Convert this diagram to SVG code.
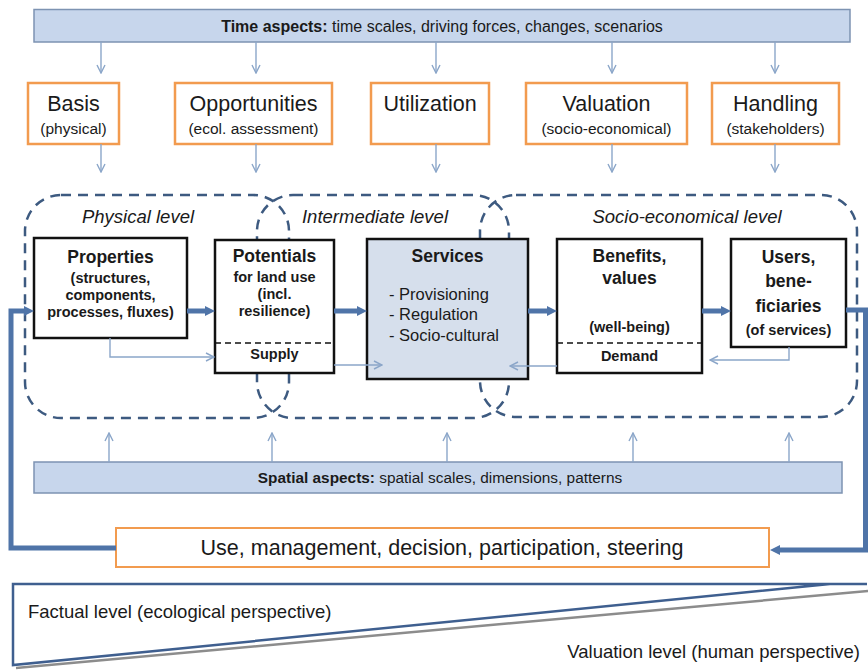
<svg xmlns="http://www.w3.org/2000/svg" width="868" height="670" viewBox="0 0 868 670">
  <style>
    text { font-family: "Liberation Sans", Arial, sans-serif; fill: #1a1a1a; }
    .band { fill: #c7d6ec; stroke: #7d93b2; stroke-width: 1.5; }
    .aspect { fill: #fff; stroke: #f29b4f; stroke-width: 2.5; }
    .node { fill: #fff; stroke: #111; stroke-width: 2.5; }
    .svc { fill: #d6dfec; stroke: #111; stroke-width: 2.5; }
    .level { fill: none; stroke: #3d5a80; stroke-width: 2.5; stroke-dasharray: 10 7; }
    .split { stroke: #111; stroke-width: 1.5; stroke-dasharray: 6 4; }
    .thin { fill: none; stroke: #8ba6c9; stroke-width: 1.4; marker-end: url(#head-thin); }
    .thick { fill: none; stroke: #4f74a8; stroke-width: 5; marker-end: url(#head-thick); }
    .h1 { font-size: 21.5px; text-anchor: middle; }
    .h2 { font-size: 15.5px; text-anchor: middle; }
    .nh { font-size: 17.5px; font-weight: bold; text-anchor: middle; }
    .nb { font-size: 14.5px; font-weight: bold; text-anchor: middle; }
    .li { font-size: 16.5px; }
    .lv { font-size: 18.5px; font-style: italic; text-anchor: middle; }
  </style>
  <defs>
    <marker id="head-thin" viewBox="0 0 10 10" refX="9" refY="5" markerWidth="10" markerHeight="10" markerUnits="userSpaceOnUse" orient="auto">
      <path d="M1,1 L9,5 L1,9" fill="none" stroke="#8ba6c9" stroke-width="1.4"/>
    </marker>
    <marker id="head-thick" viewBox="0 0 10 10" refX="2" refY="5" markerWidth="10" markerHeight="11" markerUnits="userSpaceOnUse" orient="auto">
      <path d="M0,0 L10,5 L0,10 Z" fill="#4f74a8"/>
    </marker>
  </defs>

  <!-- top band -->
  <g id="time-aspects">
    <rect class="band" x="34" y="9.5" width="816" height="32.5"/>
    <text x="442" y="31.5" font-size="16" text-anchor="middle"><tspan font-weight="bold">Time aspects:</tspan> time scales, driving forces, changes, scenarios</text>
  </g>

  <!-- aspect boxes -->
  <g id="basis">
    <rect class="aspect" x="28" y="83" width="91" height="61"/>
    <text class="h1" x="73.5" y="111">Basis</text>
    <text class="h2" x="73.5" y="134">(physical)</text>
  </g>
  <g id="opportunities">
    <rect class="aspect" x="175" y="83" width="157" height="61"/>
    <text class="h1" x="253.5" y="111">Opportunities</text>
    <text class="h2" x="253.5" y="134">(ecol. assessment)</text>
  </g>
  <g id="utilization">
    <rect class="aspect" x="371" y="83" width="118" height="61"/>
    <text class="h1" x="430" y="111">Utilization</text>
  </g>
  <g id="valuation">
    <rect class="aspect" x="526" y="83" width="161" height="61"/>
    <text class="h1" x="606.5" y="111">Valuation</text>
    <text class="h2" x="606.5" y="134">(socio-economical)</text>
  </g>
  <g id="handling">
    <rect class="aspect" x="712" y="83" width="127" height="61"/>
    <text class="h1" x="775.5" y="111">Handling</text>
    <text class="h2" x="775.5" y="134">(stakeholders)</text>
  </g>

  <!-- level regions -->
  <g id="levels">
    <rect class="level" x="25" y="195" width="264" height="223" rx="36"/>
    <rect class="level" x="257" y="195" width="252" height="223" rx="36"/>
    <rect class="level" x="480" y="195" width="377" height="222" rx="36"/>
    <text class="lv" x="138" y="223">Physical level</text>
    <text class="lv" x="375" y="223">Intermediate level</text>
    <text class="lv" x="687" y="223">Socio-economical level</text>
  </g>

  <!-- core chain -->
  <g id="properties">
    <rect class="node" x="34" y="238" width="153" height="100"/>
    <text class="nh" x="110.5" y="263">Properties</text>
    <text class="nb" x="110.5" y="283">(structures,</text>
    <text class="nb" x="110.5" y="300">components,</text>
    <text class="nb" x="110.5" y="317">processes, fluxes)</text>
  </g>
  <g id="potentials">
    <rect class="node" x="215" y="240" width="119" height="133"/>
    <line class="split" x1="215" y1="343" x2="334" y2="343"/>
    <text class="nh" x="274.5" y="262">Potentials</text>
    <text class="nb" x="274.5" y="282">for land use</text>
    <text class="nb" x="274.5" y="299">(incl.</text>
    <text class="nb" x="274.5" y="316">resilience)</text>
    <text class="nb" x="274.5" y="359">Supply</text>
  </g>
  <g id="services">
    <rect class="svc" x="367" y="239" width="161" height="140"/>
    <text class="nh" x="447.5" y="262">Services</text>
    <text class="li" x="389" y="300">- Provisioning</text>
    <text class="li" x="389" y="320">- Regulation</text>
    <text class="li" x="389" y="341">- Socio-cultural</text>
  </g>
  <g id="benefits">
    <rect class="node" x="557" y="239" width="145" height="134"/>
    <line class="split" x1="557" y1="343" x2="702" y2="343"/>
    <text class="nh" x="629.5" y="262">Benefits,</text>
    <text class="nh" x="629.5" y="284">values</text>
    <text class="nb" x="629.5" y="332">(well-being)</text>
    <text class="nb" x="629.5" y="361">Demand</text>
  </g>
  <g id="users">
    <rect class="node" x="731" y="239" width="115" height="108"/>
    <text class="nh" x="788.5" y="263">Users,</text>
    <text class="nh" x="788.5" y="287">bene-</text>
    <text class="nh" x="788.5" y="312">ficiaries</text>
    <text class="nb" x="788.5" y="335">(of services)</text>
  </g>

  <!-- bottom band -->
  <g id="spatial-aspects">
    <rect class="band" x="34" y="462" width="808" height="31"/>
    <text x="440" y="483" font-size="15.4" text-anchor="middle"><tspan font-weight="bold">Spatial aspects:</tspan> spatial scales, dimensions, patterns</text>
  </g>

  <g id="use-management">
    <rect x="116" y="528" width="653" height="39" fill="#fff" stroke="#f29b4f" stroke-width="2"/>
    <text x="442" y="555" font-size="21.5" text-anchor="middle">Use, management, decision, participation, steering</text>
  </g>

  <!-- connectors -->
  <g id="connectors">
    <!-- time aspects down to the aspect boxes -->
    <path class="thin" d="M101,42 V73"/>
    <path class="thin" d="M256,42 V73"/>
    <path class="thin" d="M436,42 V73"/>
    <path class="thin" d="M612,42 V73"/>
    <path class="thin" d="M775,42 V73"/>
    <!-- aspect boxes down to the levels -->
    <path class="thin" d="M101,144 V172"/>
    <path class="thin" d="M256,144 V172"/>
    <path class="thin" d="M436,144 V172"/>
    <path class="thin" d="M612,144 V172"/>
    <path class="thin" d="M775,144 V172"/>
    <!-- spatial aspects up to the levels -->
    <path class="thin" d="M109,462 V433"/>
    <path class="thin" d="M272,462 V433"/>
    <path class="thin" d="M447,462 V433"/>
    <path class="thin" d="M633,462 V433"/>
    <path class="thin" d="M789,462 V433"/>
    <!-- supply and demand side arrows -->
    <path class="thin" d="M110,338 V357 H214"/>
    <path class="thin" d="M334,365 H382"/>
    <path class="thin" d="M789,347 V360 H710"/>
    <path class="thin" d="M557,366 H510"/>
    <!-- main chain -->
    <path class="thick" d="M187,311 H207"/>
    <path class="thick" d="M334,311 H359"/>
    <path class="thick" d="M528,311 H549"/>
    <path class="thick" d="M702,311 H723"/>
    <!-- feedback loop -->
    <path class="thick" d="M846,310 H865.5 V550 H778"/>
    <path class="thick" d="M116,548 H11 V311 H26"/>
  </g>

  <!-- perspective wedges -->
  <g id="perspective">
    <path d="M16,668 L868,591" fill="none" stroke="#8c8c8c" stroke-width="2.5"/>
    <path d="M867,584 H13 V665 L830,584" fill="none" stroke="#3f5f8f" stroke-width="2.5"/>
    <text x="28" y="618" font-size="18.5">Factual level (ecological perspective)</text>
    <text x="860" y="658" font-size="18.5" text-anchor="end">Valuation level (human perspective)</text>
  </g>
</svg>
